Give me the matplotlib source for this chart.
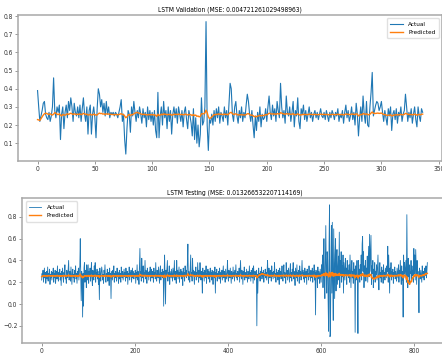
import numpy as np
import matplotlib
matplotlib.use("Agg")
import matplotlib.pyplot as plt

# validation set
val_actual = [
    .39,.30,.22,.25,.28,.32,.33,.26,.24,.23,.27,.22,.25,.30,.46,.28,.24,.30,.27,.31,
    .12,.26,.30,.18,.27,.31,.24,.33,.28,.35,.30,.22,.32,.27,.25,.30,.24,.31,.22,.29,
    .35,.26,.22,.30,.15,.28,.31,.15,.26,.30,.24,.13,.29,.40,.37,.30,.34,.27,.32,.25,
    .33,.26,.30,.24,.27,.26,.27,.25,.27,.26,.24,.27,.30,.34,.22,.26,.12,.04,.18,.28,
    .26,.16,.30,.25,.33,.27,.22,.28,.24,.30,.26,.21,.29,.24,.27,.19,.30,.23,.28,.22,
    .27,.20,.28,.17,.13,.38,.13,.25,.30,.20,.33,.24,.28,.18,.30,.22,.28,.15,.26,.30,
    .24,.29,.21,.30,.26,.22,.28,.19,.27,.30,.23,.18,.28,.25,.21,.14,.29,.12,.24,.10,
    .20,.08,.15,.35,.20,.22,.30,.77,.20,.06,.23,.21,.26,.20,.28,.22,.29,.24,.30,.21,
    .27,.25,.22,.30,.24,.28,.20,.31,.43,.40,.26,.22,.30,.33,.25,.21,.28,.24,.30,.22,
    .27,.24,.31,.37,.33,.26,.22,.28,.20,.13,.25,.17,.27,.22,.30,.19,.26,.23,.24,.29,
    .22,.30,.36,.27,.23,.31,.25,.29,.22,.33,.28,.24,.43,.30,.24,.28,.21,.36,.27,.25,
    .30,.22,.27,.33,.19,.28,.25,.35,.22,.18,.29,.26,.31,.23,.28,.22,.26,.30,.24,.27,
    .22,.26,.28,.24,.27,.23,.26,.29,.25,.24,.27,.23,.28,.25,.22,.27,.24,.28,.26,.23,
    .27,.25,.29,.22,.26,.24,.28,.21,.27,.31,.24,.28,.22,.25,.30,.23,.27,.20,.32,.26,
    .14,.24,.30,.22,.36,.26,.21,.33,.20,.19,.30,.38,.49,.25,.28,.31,.33,.32,.28,.30,
    .33,.27,.22,.28,.24,.20,.29,.25,.30,.17,.26,.28,.23,.29,.21,.27,.25,.30,.22,.26,
    .28,.37,.30,.22,.27,.24,.29,.21,.26,.30,.23,.19,.30,.25,.22,.29,.27,
]
val_pred = [
    .230,.228,.225,.235,.245,.255,.262,.265,.264,.260,.258,.262,.258,.255,.260,.268,.265,.260,.257,.262,
    .255,.250,.258,.256,.254,.258,.262,.258,.262,.265,.262,.258,.262,.260,.258,.260,.258,.262,.257,.260,
    .264,.262,.258,.260,.255,.256,.260,.255,.256,.260,.258,.254,.256,.262,.266,.263,.264,.260,.262,.258,
    .262,.260,.261,.258,.259,.258,.258,.257,.258,.258,.257,.258,.260,.263,.258,.258,.250,.240,.245,.255,
    .258,.252,.258,.257,.262,.265,.268,.270,.266,.265,.262,.258,.260,.258,.259,.255,.258,.256,.258,.256,
    .258,.255,.257,.253,.248,.260,.252,.255,.260,.256,.262,.259,.260,.256,.259,.257,.259,.254,.256,.260,
    .258,.260,.257,.260,.259,.257,.259,.256,.258,.260,.258,.255,.258,.258,.256,.252,.258,.252,.255,.248,
    .250,.245,.248,.262,.262,.262,.266,.282,.268,.245,.236,.238,.245,.250,.258,.256,.260,.258,.262,.258,
    .260,.259,.257,.261,.258,.260,.256,.262,.268,.270,.263,.258,.260,.262,.258,.255,.257,.256,.258,.255,
    .256,.255,.258,.262,.263,.258,.254,.255,.252,.246,.248,.245,.250,.250,.254,.250,.253,.252,.254,.258,
    .256,.260,.265,.264,.260,.262,.260,.262,.258,.263,.262,.260,.268,.266,.262,.262,.258,.263,.262,.260,
    .262,.258,.260,.263,.256,.258,.258,.262,.258,.254,.257,.257,.260,.257,.259,.257,.258,.260,.258,.259,
    .257,.258,.259,.257,.258,.257,.258,.260,.259,.258,.259,.257,.259,.258,.256,.258,.257,.259,.258,.257,
    .258,.258,.260,.257,.258,.257,.259,.255,.258,.261,.259,.260,.257,.258,.261,.259,.260,.257,.262,.260,
    .250,.254,.259,.257,.263,.262,.258,.262,.258,.256,.260,.266,.272,.265,.264,.264,.265,.266,.264,.265,
    .266,.262,.258,.258,.256,.252,.255,.254,.257,.250,.252,.256,.255,.258,.255,.257,.257,.259,.256,.257,
    .259,.264,.263,.258,.259,.257,.259,.256,.258,.260,.258,.254,.258,.258,.256,.259,.260,
]

# test set
test_actual = [
    .22,.28,.25,.31,.20,.27,.33,.24,.29,.19,.26,.30,.23,.34,.21,.28,.25,.32,.18,.27,
    .24,.30,.22,.29,.26,.33,.20,.28,.24,.31,.19,.27,.30,.23,.35,.25,.21,.29,.26,.32,
    .22,.28,.17,.30,.25,.33,.24,.20,.29,.27,.36,.23,.26,.19,.31,.28,.24,.33,.40,.22,
    .27,.30,.21,.34,.25,.18,.29,.32,.24,.27,.20,.31,.26,.35,.23,.28,.19,.30,.25,.33,
    .22,.29,.35,.60,.26,.03,.30,.24,-.12,.28,-.02,.33,.38,.20,.27,.31,.15,.36,.25,.22,
    .36,.19,.30,.26,.33,.21,.28,.38,.24,.17,.31,.27,.22,.35,.25,.38,.20,.29,.26,.32,
    .23,.30,.18,.27,.04,.33,.25,.21,.29,.34,.30,.22,.27,.19,.31,.26,.36,.24,.20,.28,
    .25,.32,.21,.29,.27,.17,.33,.24,.28,.05,.30,.26,.22,.31,.25,.35,.20,.28,.24,.30,
    .27,.21,.33,.25,.29,.19,.26,.31,.23,.28,.20,.34,.26,.24,.30,.22,.27,.32,.25,.29,
    .21,.33,.27,.24,.30,.18,.28,.25,.34,.22,.29,.26,.31,.20,.27,.33,.24,.30,.23,.28,
    .26,.31,.19,.29,.24,.36,.22,.30,.27,.18,.33,.51,.25,.30,.21,.42,.28,.24,.35,.20,
    .29,.26,.40,.23,.31,.27,.19,.33,.25,.29,.22,.30,.26,.34,.21,.28,.32,.24,.30,.27,
    .20,.33,.26,.29,.23,.38,.25,.21,.31,.28,.24,.34,.27,.19,.30,.35,.22,.29,.26,.32,
    .24,.30,-.02,.28,.45,.22,.00,.31,.26,.33,.40,.21,.29,.25,.35,.18,.30,.27,.24,.32,
    .26,.21,.33,.28,.24,.40,.22,.30,.27,.19,.40,.25,.31,.23,.28,.34,.20,.29,.26,.32,
    .23,.30,.27,.17,.33,.25,.29,.21,.35,.26,.31,.24,.28,.38,.55,.22,.30,.27,.20,.33,
    .45,.25,.29,.21,.42,.27,.31,.24,.18,.30,.26,.34,.22,.29,.25,.38,.27,.20,.31,.24,
    .38,.28,.22,.30,.26,.10,.33,.25,.29,.21,.31,.27,.24,.35,.19,.28,.26,.32,.23,.30,
    .27,.20,.33,.25,.29,.22,.31,.26,.18,.30,.27,.24,.34,.10,.29,.26,.32,.21,.28,.25,
    .30,.23,.33,.27,.19,.29,.25,.31,.22,.28,.35,.24,.30,.26,.20,.32,.27,.23,.29,.40,
    .25,.21,.31,.28,.24,.33,.26,.19,.30,.27,.23,.34,.25,.29,.21,.31,.26,.36,.24,.28,
    .22,.30,.27,.25,.33,.20,.29,.40,.26,.23,.31,.28,.18,.30,.25,.34,.22,.29,.27,.24,
    .32,.26,.20,.30,.28,.23,.35,.25,.29,.21,.31,.27,.24,.33,.19,.35,.26,.22,.30,.28,
    .25,.31,-.20,.27,.10,.29,.33,.24,.28,.21,.30,.26,.34,.23,.29,.25,.31,.20,.28,.26,
    .32,.24,.29,.22,.30,.40,.26,.19,.33,.27,.24,.31,.28,.21,.35,.25,.29,.23,.30,.27,
    .38,.24,.28,.20,.32,.26,.29,.22,.31,.27,.18,.33,.25,.30,.23,.28,.35,.26,.21,.30,
    .36,.24,.29,.27,.19,.38,.25,.31,.22,.28,.33,.26,.20,.30,.37,.24,.29,.21,.32,.27,
    .38,.23,.30,.26,.17,.33,.28,.24,.36,.21,.29,.27,.31,.19,.35,.25,.30,.22,.28,.40,
    .26,.31,.23,.29,.20,.33,.27,.24,.30,.18,.32,.26,.28,.22,.35,.25,.29,.21,.31,.27,
    .24,.33,.20,.30,.26,.36,.22,.29,-.10,.31,.25,.28,.15,.34,.23,.30,.27,.19,.32,.26,
    .20,.36,.28,.45,.15,.33,.60,.22,.05,.42,.72,.30,.10,.48,.40,.02,-.25,.55,.91,-.30,
    -.28,.30,.72,.10,.75,.20,-.15,.69,.35,.05,.45,.60,.12,.38,.50,.18,.30,.44,.22,.66,
    .15,.40,.28,.48,.20,.35,.25,.45,.10,.38,.30,.22,.42,.27,.33,.18,.40,.26,.31,.24,
    .36,.20,.45,.28,.15,.33,.40,.24,.30,.19,.38,.26,.32,-.26,.35,.22,.29,.40,.18,-.27,
    .40,.25,.32,.20,.36,.28,.45,.22,.55,.62,.30,.48,.15,.35,.27,.40,.21,.33,.26,.44,
    .20,.38,.53,.25,.64,.30,.45,.63,.18,.35,.28,.40,.15,.32,.24,.38,.20,.30,.27,.36,
    .22,.33,.45,.26,.13,.30,.38,.24,.29,.20,.34,.27,.31,.19,.36,.25,.29,.22,.33,.28,
    .24,.35,.30,.53,.20,.45,.28,.10,.33,.26,.38,.22,.30,.25,.32,.19,.29,.27,.34,.23,
    .30,.26,.21,.33,.28,.24,.36,.20,.31,.27,.40,.25,.18,.35,.22,.30,-.12,.45,.28,.38,
    .24,.33,.40,.20,.82,.30,.15,.42,.25,.36,.18,.30,.28,.40,.22,.35,.26,.31,.20,.51,
    .28,.45,.22,.50,.34,.18,.40,.26,.30,.21,-.08,.33,.27,.23,.31,.25,.20,.35,.28,.24,
    .30,.22,.33,.26,.29,.35,.24,.30,.38,
]
test_pred = [
    .250,.255,.258,.256,.260,.258,.262,.257,.259,.255,.258,.260,.256,.261,.257,.259,.262,.258,.255,.259,
    .257,.260,.256,.259,.258,.262,.256,.259,.257,.260,.255,.258,.261,.257,.263,.259,.255,.258,.257,.261,
    .256,.259,.253,.258,.257,.261,.258,.255,.259,.258,.263,.257,.258,.254,.260,.259,.257,.261,.268,.257,
    .259,.261,.255,.262,.258,.253,.259,.261,.257,.259,.255,.261,.258,.263,.256,.259,.254,.260,.257,.262,
    .256,.259,.262,.275,.262,.248,.255,.256,.240,.250,.245,.255,.262,.256,.258,.260,.252,.262,.258,.256,
    .263,.255,.260,.258,.262,.256,.259,.265,.258,.252,.260,.258,.256,.262,.258,.265,.255,.259,.258,.261,
    .256,.260,.254,.258,.245,.258,.257,.255,.259,.262,.261,.256,.258,.254,.260,.258,.263,.257,.255,.259,
    .258,.261,.255,.259,.258,.253,.261,.257,.259,.246,.256,.258,.255,.260,.258,.263,.255,.259,.257,.260,
    .258,.255,.261,.258,.259,.254,.258,.260,.257,.259,.255,.262,.258,.257,.260,.256,.258,.261,.258,.259,
    .255,.261,.259,.257,.260,.254,.259,.258,.262,.256,.259,.258,.261,.255,.258,.261,.257,.260,.257,.259,
    .258,.261,.254,.259,.257,.263,.256,.260,.259,.254,.261,.272,.262,.262,.256,.266,.260,.258,.263,.256,
    .259,.258,.265,.257,.261,.259,.254,.261,.258,.259,.256,.260,.258,.262,.255,.259,.261,.257,.260,.259,
    .255,.261,.258,.259,.257,.265,.258,.255,.260,.259,.257,.262,.259,.254,.260,.263,.256,.259,.258,.261,
    .257,.260,.245,.255,.265,.252,.245,.255,.256,.262,.268,.258,.260,.257,.263,.254,.260,.259,.257,.261,
    .258,.255,.261,.259,.257,.266,.256,.260,.259,.254,.266,.258,.261,.257,.259,.262,.255,.259,.258,.261,
    .257,.260,.259,.254,.262,.258,.260,.256,.264,.259,.262,.258,.260,.266,.278,.262,.263,.261,.257,.262,
    .270,.262,.262,.258,.266,.261,.262,.258,.254,.260,.258,.262,.256,.259,.258,.265,.259,.255,.261,.258,
    .265,.260,.256,.260,.258,.246,.259,.257,.259,.255,.261,.259,.257,.263,.254,.259,.258,.261,.257,.260,
    .259,.255,.262,.258,.260,.256,.261,.259,.254,.260,.259,.257,.263,.246,.257,.258,.261,.256,.259,.258,
    .260,.257,.262,.260,.255,.259,.258,.261,.256,.259,.264,.258,.261,.259,.256,.262,.260,.257,.260,.268,
    .262,.257,.261,.260,.258,.262,.259,.255,.260,.259,.257,.263,.259,.260,.256,.261,.259,.265,.258,.260,
    .256,.260,.259,.258,.262,.255,.259,.268,.262,.258,.261,.260,.254,.260,.258,.263,.256,.259,.259,.258,
    .262,.259,.255,.260,.260,.257,.264,.259,.260,.256,.261,.259,.258,.262,.255,.264,.260,.257,.260,.260,
    .258,.262,.240,.250,.248,.258,.265,.262,.268,.265,.270,.272,.278,.275,.278,.274,.276,.270,.272,.268,
    .270,.264,.266,.260,.262,.270,.262,.256,.262,.260,.258,.262,.261,.256,.264,.259,.261,.257,.261,.260,
    .268,.258,.260,.255,.262,.259,.261,.256,.262,.260,.254,.263,.259,.261,.257,.260,.265,.259,.256,.261,
    .266,.259,.261,.260,.255,.267,.259,.262,.257,.260,.263,.259,.256,.261,.267,.258,.261,.256,.262,.260,
    .266,.258,.261,.259,.253,.262,.260,.258,.265,.256,.260,.259,.262,.255,.265,.259,.261,.257,.260,.268,
    .261,.262,.258,.260,.255,.262,.260,.258,.261,.254,.262,.259,.260,.257,.265,.259,.260,.256,.262,.260,
    .258,.263,.255,.261,.259,.266,.257,.260,.245,.255,.258,.259,.250,.262,.258,.261,.260,.256,.262,.260,
    .256,.265,.262,.272,.262,.266,.280,.268,.258,.272,.288,.275,.262,.278,.276,.260,.248,.270,.292,.265,
    .250,.262,.285,.268,.290,.272,.255,.282,.270,.258,.270,.280,.262,.268,.275,.262,.266,.272,.262,.282,
    .262,.270,.266,.272,.262,.266,.262,.270,.255,.266,.264,.260,.268,.262,.265,.258,.266,.262,.264,.260,
    .266,.258,.270,.262,.252,.264,.268,.260,.264,.256,.266,.260,.264,.240,.258,.255,.260,.266,.255,.238,
    .262,.256,.262,.255,.265,.260,.270,.258,.275,.280,.265,.272,.255,.262,.258,.266,.255,.262,.258,.266,
    .252,.262,.270,.258,.275,.262,.268,.272,.242,.248,.238,.240,.228,.232,.230,.238,.232,.240,.242,.248,
    .240,.250,.260,.256,.245,.255,.262,.258,.260,.255,.262,.259,.261,.255,.264,.259,.261,.257,.262,.260,
    .258,.264,.262,.272,.258,.268,.262,.248,.262,.258,.266,.256,.262,.258,.262,.255,.260,.259,.263,.257,
    .262,.260,.256,.264,.262,.259,.268,.258,.263,.261,.270,.262,.256,.266,.258,.262,.240,.262,.260,.266,
    .258,.262,.260,.225,.250,.230,.200,.215,.190,.185,.180,.195,.200,.212,.205,.225,.235,.245,.240,.262,
    .255,.268,.258,.270,.266,.256,.268,.262,.264,.258,.245,.262,.260,.258,.262,.260,.256,.266,.265,.262,
    .268,.262,.272,.270,.275,.282,.275,.278,.282,
]

val_mse = 0.004721261029498963
test_mse = 0.013266532207114169

plt.rcParams["font.family"] = ["DejaVu Sans"]
plt.rcParams["font.stretch"] = "condensed"

fig = plt.figure(figsize=(4.42, 3.53), dpi=100)
ax1 = fig.add_axes([0.0414, 0.5448, 0.9584, 0.4127])
ax2 = fig.add_axes([0.0505, 0.0275, 0.960, 0.4108])


def style(ax):
    for s in ax.spines.values():
        s.set_color("#a8a8a8")
        s.set_linewidth(1.1)
    ax.tick_params(labelsize=4.8, length=2, width=0.6, pad=1.5,
                   color="#888888", labelcolor="#333333")


ax1.plot(np.arange(len(val_actual)), val_actual, color="#1f77b4", lw=0.8, label="Actual")
ax1.plot(np.arange(len(val_pred)), val_pred, color="#ff7f0e", lw=1.0, label="Predicted")
ax1.set_title(f"LSTM Validation (MSE: {val_mse})", fontsize=4.8, pad=2.5)
ax1.set_xticks([0, 50, 100, 150, 200, 250, 300, 350])
ax1.set_yticks([0.1, 0.2, 0.3, 0.4, 0.5, 0.6, 0.7, 0.8])
ax1.legend(loc="upper right", fontsize=4.6, handlelength=2.0, borderpad=0.5,
           labelspacing=0.45, framealpha=0.9, edgecolor="#dddddd")
style(ax1)

ax2.plot(np.arange(len(test_actual)), test_actual, color="#1f77b4", lw=0.6, label="Actual")
ax2.plot(np.arange(len(test_pred)), test_pred, color="#ff7f0e", lw=1.0, label="Predicted")
ax2.set_title(f"LSTM Testing (MSE: {test_mse})", fontsize=4.8, pad=2.5)
ax2.set_xticks([0, 200, 400, 600, 800])
ax2.set_yticks([-0.2, 0.0, 0.2, 0.4, 0.6, 0.8])
ax2.legend(loc="upper left", fontsize=4.6, handlelength=2.0, borderpad=0.5,
           labelspacing=0.45, framealpha=0.9, edgecolor="#dddddd")
style(ax2)

fig.savefig("out.png", dpi=100)
